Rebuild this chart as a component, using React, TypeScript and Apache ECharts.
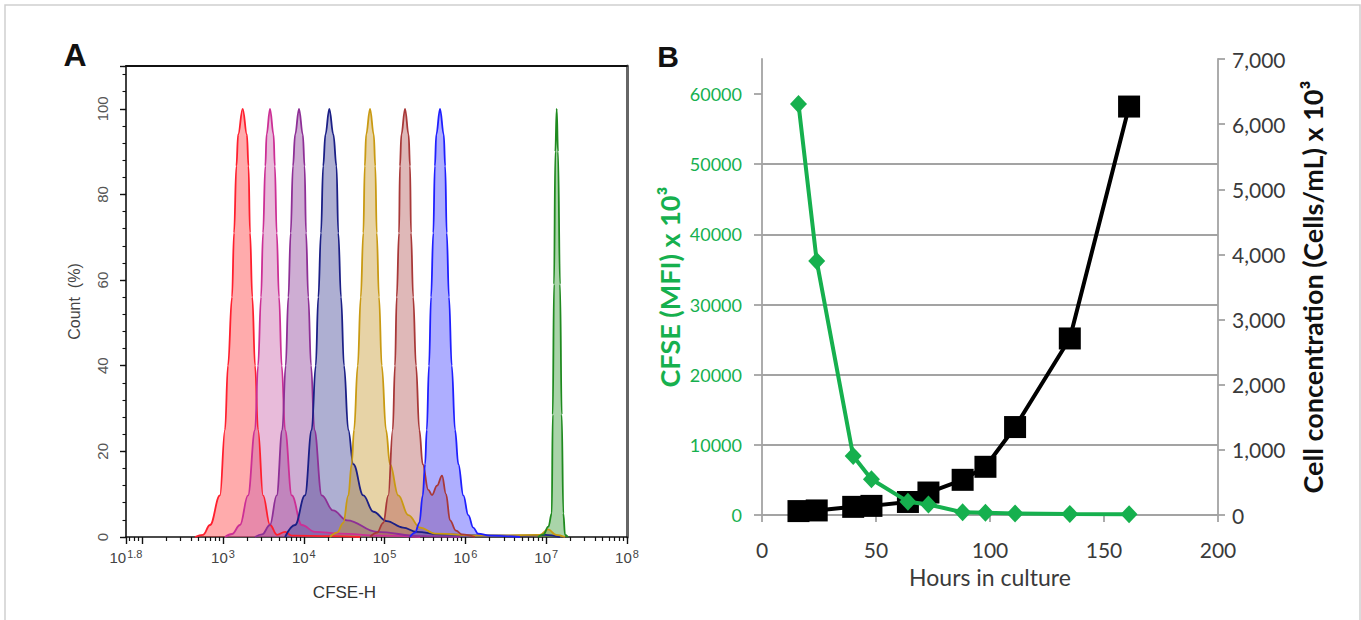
import React, { useEffect, useRef } from 'react';
import * as echarts from 'echarts';

// ---------- Panel A: CFSE histograms (x = log10(CFSE-H), y = Count %) ----------
const redHist = [[2.654,0],[2.753,0.5],[2.840,2.8],[2.963,9.7],[3.025,25],[3.062,40],[3.112,56],[3.137,71],[3.166,86.6],[3.188,94],[3.244,100],[3.296,94],[3.316,86.6],[3.335,71],[3.363,56],[3.397,40],[3.434,25],[3.496,9.7],[3.582,2.8],[3.669,0.5],[3.768,1.2],[3.854,0.3],[4.325,0.2],[4.70,0]];
const pinkHist = [[3.025,0],[3.112,0.7],[3.211,2.8],[3.310,9.7],[3.397,25],[3.434,40],[3.471,56],[3.496,71],[3.524,86.6],[3.540,94],[3.582,100],[3.626,94],[3.642,86.6],[3.665,71],[3.694,56],[3.727,40],[3.768,25],[3.851,9.7],[3.975,2.8],[4.139,1.2],[4.449,0.8],[4.943,0.3],[5.44,0]];
const purpleHist = [[3.397,0],[3.483,0.6],[3.582,2.8],[3.665,9.7],[3.734,25],[3.776,40],[3.809,56],[3.838,71],[3.866,86.6],[3.893,94],[3.941,100],[3.988,94],[4.010,86.6],[4.028,71],[4.056,56],[4.090,40],[4.131,25],[4.222,9.7],[4.362,6.2],[4.535,3.9],[4.906,1.2],[5.439,0.2],[5.934,0]];
const navyHist = [[3.768,0],[3.892,2.8],[4.015,9.7],[4.098,25],[4.148,40],[4.180,56],[4.213,71],[4.240,86.6],[4.268,94],[4.316,100],[4.366,94],[4.405,86.6],[4.427,71],[4.461,56],[4.498,40],[4.551,25],[4.613,17],[4.737,9.7],[4.861,5.9],[5.026,3.7],[5.228,2.2],[5.398,1.2],[5.686,0.6],[6.181,0.4],[6.676,0.3],[6.986,0.5],[7.171,0]];
const goldHist = [[4.325,0],[4.411,1],[4.489,3.3],[4.551,9.7],[4.593,17],[4.622,25],[4.668,40],[4.705,56],[4.737,71],[4.755,86.6],[4.772,94],[4.820,100],[4.866,94],[4.885,86.6],[4.903,71],[4.931,56],[4.965,40],[5.018,25],[5.067,17],[5.170,9.7],[5.294,5.1],[5.439,2.2],[5.624,0.8],[6.181,0.3],[6.924,0.5],[7.023,1.8],[7.122,0.5],[7.233,0]];
const brownHist = [[4.820,0],[4.906,1],[4.984,3.3],[5.046,9.7],[5.101,25],[5.129,40],[5.150,56],[5.179,71],[5.190,86.6],[5.208,94],[5.253,100],[5.297,94],[5.315,86.6],[5.327,71],[5.354,56],[5.389,40],[5.430,25],[5.472,17],[5.541,11],[5.587,9.8],[5.649,12],[5.711,14.3],[5.760,10],[5.810,3.9],[5.884,1.5],[5.958,0.6],[6.119,0]];
const blueHist = [[5.315,0],[5.377,1],[5.430,3.3],[5.472,9.7],[5.501,17],[5.522,25],[5.550,40],[5.575,56],[5.603,71],[5.622,86.6],[5.640,94],[5.686,100],[5.732,94],[5.750,86.6],[5.769,71],[5.797,56],[5.831,40],[5.872,25],[5.913,17],[5.975,9.7],[6.036,5.1],[6.098,2.2],[6.156,0.8],[6.305,0.3],[6.676,0]];
const greenHist = [[6.899,0],[6.965,0.6],[7.027,2.4],[7.069,5.5],[7.081,28.6],[7.097,59],[7.113,90],[7.130,100],[7.146,90],[7.171,59],[7.192,28.6],[7.212,5.5],[7.233,0.5],[7.270,0]];

const histColors = [
  { line: '#ff1f2e', fill: 'rgba(255,48,52,0.58)' },
  { line: '#cc2f95', fill: 'rgba(200,92,168,0.6)' },
  { line: '#8e2f96', fill: 'rgba(138,60,150,0.6)' },
  { line: '#1b1f86', fill: 'rgba(62,64,148,0.6)' },
  { line: '#c99a12', fill: 'rgba(197,150,43,0.6)' },
  { line: '#a83838', fill: 'rgba(177,80,80,0.58)' },
  { line: '#1f1fff', fill: 'rgba(63,63,255,0.6)' },
  { line: '#1f8a1f', fill: 'rgba(43,150,43,0.58)' },
];
const histograms = [redHist, pinkHist, purpleHist, navyHist, goldHist, brownHist, blueHist, greenHist];

const logLabelValues = [1.8, 3, 4, 5, 6, 7, 8];
const logMajorTicks = [1.8, 2, 3, 4, 5, 6, 7, 8];

// ---------- Panel B: CFSE MFI and cell concentration vs hours ----------
const hours = [16, 24, 40, 48, 64, 73, 88, 98, 111, 135, 161];
const cfseMfi = [58600, 36200, 8400, 5100, 1900, 1500, 380, 320, 220, 160, 110];
const cellConc = [60, 70, 125, 140, 200, 345, 540, 740, 1350, 2710, 6270];

const GREEN = '#16b04e';
const GRAY = '#a3a3a3';
const ARIAL = 'Liberation Sans, Arial, sans-serif';
const CAL = 'Lato, Open Sans, sans-serif';

function minorLogTicks(): number[] {
  const out: number[] = [];
  for (let n = 1; n <= 7; n++) {
    for (let k = 2; k <= 9; k++) {
      const v = n + Math.log10(k);
      if (v > 1.8 && v < 8) out.push(v);
    }
  }
  return out;
}

export default function App() {
  const ref = useRef<HTMLDivElement>(null);
  useEffect(() => {
    if (!ref.current) return;
    const chart = echarts.init(ref.current, undefined, { renderer: 'svg' });
    const histSeries = histograms.map((d, i) => ({
      type: 'line',
      xAxisIndex: 0,
      yAxisIndex: 0,
      data: d,
      smooth: 0.4,
      smoothMonotone: 'x',
      symbol: 'none',
      lineStyle: { color: histColors[i].line, width: 1.8 },
      areaStyle: { color: histColors[i].fill },
      z: 3,
    }));
    const option: any = {
      animation: false,
      backgroundColor: '#ffffff',
      grid: [
        { left: 126, top: 66, width: 501, height: 471 },
        { left: 762, top: 59, width: 456, height: 456 },
      ],
      xAxis: [
        {
          gridIndex: 0, type: 'value', min: 1.8, max: 8, position: 'bottom',
          axisLine: { show: true, onZero: false, lineStyle: { color: '#111', width: 1.6 } },
          axisTick: { show: true, customValues: logMajorTicks, length: 7, lineStyle: { color: '#111', width: 1.4 } },
          axisLabel: {
            customValues: logLabelValues,
            margin: 11,
            formatter: (v: number) => `{b|10}{s|${Math.abs(v - 1.8) < 1e-6 ? '1.8' : Math.round(v)}}`,
            rich: {
              b: { fontSize: 15, color: '#444', fontFamily: ARIAL },
              s: { fontSize: 11, color: '#444', fontFamily: ARIAL, padding: [0, 0, 8, 1] },
            },
          },
          splitLine: { show: false },
          name: 'CFSE-H', nameLocation: 'middle', nameGap: 47,
          nameTextStyle: { fontSize: 17, color: '#333', fontFamily: ARIAL, padding: [0, 64, 0, 0] },
        },
        {
          gridIndex: 0, type: 'value', min: 1.8, max: 8, position: 'top',
          axisLine: { show: true, onZero: false, lineStyle: { color: '#111', width: 1.8 } },
          axisTick: { show: false }, axisLabel: { show: false }, splitLine: { show: false },
        },
        {
          gridIndex: 0, type: 'value', min: 1.8, max: 8, position: 'bottom',
          axisLine: { show: false, onZero: false },
          axisTick: { show: true, customValues: minorLogTicks(), length: 4, lineStyle: { color: '#111', width: 1.2 } },
          axisLabel: { show: false },
          splitLine: { show: false },
        },
        {
          gridIndex: 1, type: 'value', min: 0, max: 200, interval: 50, position: 'bottom',
          axisLine: { show: true, lineStyle: { color: GRAY, width: 1.8 } },
          axisTick: { show: true, length: 7, lineStyle: { color: GRAY, width: 1.8 } },
          axisLabel: { fontSize: 21, color: '#3a3a3a', fontFamily: CAL, margin: 24 },
          splitLine: { show: false },
          name: 'Hours in culture', nameLocation: 'middle', nameGap: 50,
          nameTextStyle: { fontSize: 23, color: '#3a3a3a', fontFamily: CAL },
        },
      ],
      yAxis: [
        {
          gridIndex: 0, type: 'value', min: 0, max: 110, interval: 20, position: 'left',
          axisLine: { show: true, onZero: false, lineStyle: { color: '#111', width: 1.6 } },
          axisTick: { show: true, length: 6, lineStyle: { color: '#111', width: 1.4 } },
          axisLabel: {
            rotate: 90, margin: 16, fontSize: 15, color: '#555', fontFamily: ARIAL,
            formatter: (v: number) => (v > 100 ? '' : String(v)),
          },
          splitLine: { show: false },
          name: 'Count  (%)', nameLocation: 'middle', nameRotate: 90, nameGap: 44,
          nameTextStyle: { fontSize: 16, color: '#444', fontFamily: ARIAL },
        },
        {
          gridIndex: 0, type: 'value', min: 0, max: 110, position: 'right',
          axisLine: { show: true, onZero: false, lineStyle: { color: '#666', width: 3 } },
          axisTick: { show: false }, axisLabel: { show: false }, splitLine: { show: false },
        },
        {
          gridIndex: 0, type: 'value', min: 0, max: 110, interval: 4, position: 'left',
          axisLine: { show: false, onZero: false },
          axisTick: { show: true, length: 3.5, lineStyle: { color: '#111', width: 1.1 } },
          axisLabel: { show: false }, splitLine: { show: false },
        },
        {
          gridIndex: 1, type: 'value', min: 0, max: 65000, interval: 10000, position: 'left',
          axisLine: { show: true, lineStyle: { color: GRAY, width: 1.8 } },
          axisTick: { show: true, length: 8, customValues: [0, 10000, 20000, 30000, 40000, 50000, 60000], lineStyle: { color: GRAY, width: 1.8 } },
          axisLabel: {
            fontSize: 18, color: GREEN, fontFamily: CAL, margin: 20,
            formatter: (v: number) => (v > 60000 ? '' : String(v)),
          },
          splitLine: { show: true, showMaxLine: false, lineStyle: { color: GRAY, width: 1.8 } },
          name: 'CFSE (MFI) x 10³', nameLocation: 'middle', nameRotate: 90, nameGap: 79,
          nameTextStyle: { fontSize: 27, fontWeight: 'bold', color: GREEN, fontFamily: CAL },
        },
        {
          gridIndex: 1, type: 'value', min: 0, max: 7000, interval: 1000, position: 'right',
          axisLine: { show: true, lineStyle: { color: GRAY, width: 1.8 } },
          axisTick: { show: true, length: 7, lineStyle: { color: GRAY, width: 1.8 } },
          axisLabel: {
            fontSize: 21, color: '#3a3a3a', fontFamily: CAL, margin: 14,
            formatter: (v: number) => v.toLocaleString('en-US'),
          },
          splitLine: { show: false },
          name: 'Cell concentration (Cells/mL) x 10³', nameLocation: 'middle', nameRotate: 90, nameGap: 81,
          nameTextStyle: { fontSize: 27, fontWeight: 'bold', color: '#111', fontFamily: CAL },
        },
      ],
      series: [
        ...histSeries,
        {
          type: 'line', xAxisIndex: 3, yAxisIndex: 4,
          data: hours.map((h, i) => [h, cellConc[i]]),
          symbol: 'rect', symbolSize: 22,
          itemStyle: { color: '#000' },
          lineStyle: { color: '#000', width: 4 },
          z: 4,
        },
        {
          type: 'line', xAxisIndex: 3, yAxisIndex: 3,
          data: hours.map((h, i) => [h, cfseMfi[i]]),
          symbol: 'diamond', symbolSize: [17, 18],
          itemStyle: { color: GREEN },
          lineStyle: { color: GREEN, width: 4 },
          z: 5,
        },
      ],
      graphic: [
        { type: 'rect', shape: { x: 5, y: 5, width: 1355, height: 650 }, style: { fill: 'none', stroke: '#cfcfcf', lineWidth: 1.5 }, silent: true },
        { type: 'text', x: 75, y: 55, style: { text: 'A', fontSize: 32, fontWeight: 'bold', fontFamily: ARIAL, fill: '#111', textAlign: 'center', textVerticalAlign: 'middle' } },
        { type: 'text', x: 668, y: 56, style: { text: 'B', fontSize: 30, fontWeight: 'bold', fontFamily: ARIAL, fill: '#111', textAlign: 'center', textVerticalAlign: 'middle' } },
      ],
    };
    chart.setOption(option);
    return () => chart.dispose();
  }, []);
  return <div ref={ref} style={{ position: 'fixed', left: 0, top: 0, width: 1361, height: 620 }} />;
}
